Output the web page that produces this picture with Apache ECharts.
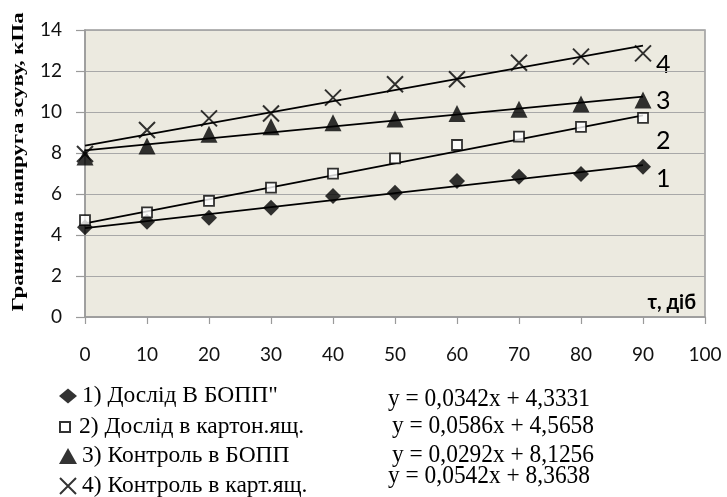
<!DOCTYPE html>
<html>
<head>
<meta charset="utf-8">
<script src="https://cdn.jsdelivr.net/npm/echarts@6/dist/echarts.min.js"></script>
<style>html,body{margin:0;padding:0;background:#fff}#c{width:727px;height:497px}</style>
</head>
<body>
<div id="c"></div>
<script>
// ---- data ----
var days = [0, 10, 20, 30, 40, 50, 60, 70, 80, 90];
var s1 = [4.38, 4.65, 4.84, 5.33, 5.90, 6.06, 6.63, 6.84, 6.98, 7.33];
var s2 = [4.73, 5.10, 5.66, 6.31, 6.99, 7.74, 8.39, 8.80, 9.27, 9.71];
var s3 = [7.80, 8.34, 8.91, 9.28, 9.48, 9.66, 9.93, 10.13, 10.39, 10.59];
var s4 = [7.95, 9.12, 9.69, 9.93, 10.70, 11.35, 11.60, 12.40, 12.70, 12.86];
var seriesNames = ['1) Дослід В БОПП"', '2) Дослід в картон.ящ.', '3) Контроль в БОПП', '4) Контроль в карт.ящ.'];
var slopes = [0.0342, 0.0586, 0.0292, 0.0542];
var intercepts = [4.3331, 4.5658, 8.1256, 8.3638];
var equations = ['y = 0,0342x + 4,3331', 'y = 0,0586x + 4,5658', 'y = 0,0292x + 8,1256', 'y = 0,0542x + 8,3638'];
var curveLabels = ['1', '2', '3', '4'];
var yTitle = 'Гранична напруга зсуву, кПа';
var xTitle = 'τ, діб';

function measure(text, font) {
  var c = document.createElement('canvas').getContext('2d');
  c.font = font;
  return c.measureText(text).width;
}

var chart = echarts.init(document.getElementById('c'), null, {renderer: 'canvas'});
var values = [s1, s2, s3, s4];
var crossPath = 'path://M0,0L20,20M20,0L0,20';
var squarePath = 'path://M0,0L10,0L10,10L0,10Z';
var symbols = ['diamond', 'rect', 'triangle', crossPath];
var legendIcons = ['diamond', squarePath, 'triangle', crossPath];
var sizes = [[16, 16], [10, 10], [17, 17], [16, 16]];
var styles = [
  {color: '#000', borderColor: '#000', borderWidth: 0},
  {color: '#fff', borderColor: '#000', borderWidth: 1.8},
  {color: '#000', borderColor: '#000', borderWidth: 0},
  {color: 'rgba(0,0,0,0)', borderColor: '#000', borderWidth: 2}
];

var series = [];
// trend lines
for (var i = 0; i < 4; i++) {
  var x0 = days[0], x1 = days[days.length - 1];
  series.push({
    type: 'line', name: 'trend' + i, silent: true, symbol: 'none', z: 2,
    lineStyle: {color: '#000', width: 1.8},
    data: [[x0, slopes[i] * x0 + intercepts[i]], [x1, slopes[i] * x1 + intercepts[i]]]
  });
}
for (var j = 0; j < 4; j++) {
  series.push({
    type: 'scatter', name: seriesNames[j], symbol: symbols[j], symbolSize: sizes[j], z: 3,
    itemStyle: styles[j],
    data: days.map(function (d, k) { return [d, values[j][k]]; })
  });
}

// one legend component per row (reference rows are stacked under the axis)
var legendTops = [383.5, 414.5, 443.5, 473.5];
var legendIconH = [15, 10, 16, 16];
var legends = [];
for (var l = 0; l < 4; l++) {
  legends.push({
    data: [{name: seriesNames[l], icon: legendIcons[l]}], orient: 'vertical', left: 59, top: legendTops[l], padding: 0,
    itemWidth: 18, itemHeight: legendIconH[l], symbolKeepAspect: true, selectedMode: false,
    textStyle: {fontFamily: 'Liberation Serif', fontSize: 23.5, lineHeight: 25, color: '#000'}
  });
}

var graphics = [];
// y-axis title
var yFont = 'bold 17px "Liberation Serif"';
var yW = measure(yTitle, yFont);
graphics.push({
  type: 'text', x: 19, y: 162, rotation: Math.PI / 2, scaleX: 299 / yW,
  style: {text: yTitle, font: yFont, fill: '#000', align: 'center', verticalAlign: 'middle'}
});
// x title
graphics.push({
  type: 'text', x: 696, y: 303,
  style: {text: xTitle, font: 'bold 20px Lato', fill: '#000', align: 'right', verticalAlign: 'middle'}
});
// curve numbers
var numY = [179, 141, 101, 65];
for (var n = 0; n < 4; n++) {
  graphics.push({
    type: 'text', x: 656, y: numY[n],
    style: {text: curveLabels[n], font: '25px Lato', fill: '#000', align: 'left', verticalAlign: 'middle'}
  });
}
// equations
var eqX = [388, 392, 392, 388];
var eqY = [399, 426, 455, 476];
var eqFont = '25px "Liberation Serif"';
for (var e = 0; e < 4; e++) {
  var w = measure(equations[e], eqFont);
  graphics.push({
    type: 'text', x: eqX[e], y: eqY[e], scaleX: 202 / w,
    style: {text: equations[e], font: eqFont, fill: '#000', align: 'left', verticalAlign: 'middle'}
  });
}

chart.setOption({
  animation: false,
  backgroundColor: '#fff',
  grid: {left: 85, right: 22, top: 30, bottom: 180, show: true, backgroundColor: '#ECEAE0', borderColor: '#9a9a9a', borderWidth: 1.5},
  legend: legends,
  xAxis: {
    type: 'value', min: 0, max: 100, interval: 10,
    axisLine: {show: true, onZero: false, lineStyle: {color: '#9a9a9a', width: 1.5}},
    axisTick: {show: true, length: 7, lineStyle: {color: '#9a9a9a', width: 1.2}},
    axisLabel: {margin: 28, fontFamily: 'Lato', fontSize: 19, color: '#111'},
    splitLine: {show: false}
  },
  yAxis: {
    type: 'value', min: 0, max: 14, interval: 2,
    axisLine: {show: true, lineStyle: {color: '#9a9a9a', width: 1.5}},
    axisTick: {show: true, length: 9, lineStyle: {color: '#9a9a9a', width: 1.2}},
    axisLabel: {margin: 23, fontFamily: 'Lato', fontSize: 19, color: '#111'},
    splitLine: {show: true, lineStyle: {color: '#a8a8a8', width: 1.2}}
  },
  series: series,
  graphic: graphics
});
</script>
</body>
</html>
